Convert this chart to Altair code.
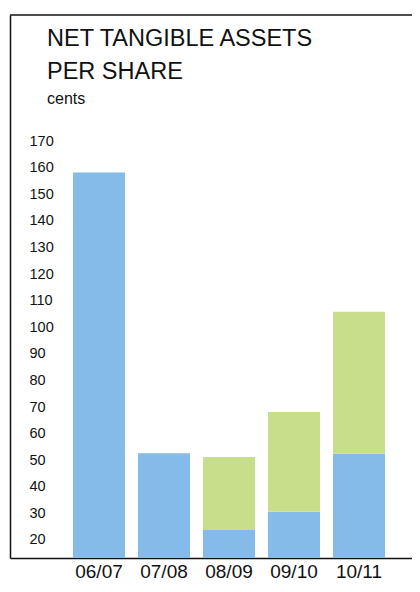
import altair as alt
import pandas as pd

categories = ["06/07", "07/08", "08/09", "09/10", "10/11"]
blue_values = [158.2, 52.6, 23.8, 30.6, 52.4]
green_values = [0.0, 0.0, 27.4, 37.5, 53.4]
y_ticks = [20, 30, 40, 50, 60, 70, 80, 90, 100, 110, 120, 130, 140, 150, 160, 170]
series_names = ["base", "extra"]
series_colors = ["#85bbe8", "#c7df8b"]

rows = []
for c, b, g in zip(categories, blue_values, green_values):
    rows.append({"period": c, "series": "base", "value": b, "ord": 0})
    rows.append({"period": c, "series": "extra", "value": g, "ord": 1})
df = pd.DataFrame(rows)

FONT = "Liberation Sans"

bars = alt.Chart(df).mark_bar(clip=True).encode(
    x=alt.X("period:N", sort=categories,
            scale=alt.Scale(paddingInner=0.2, paddingOuter=0.692, align=0.7),
            axis=alt.Axis(title=None, labelAngle=0, ticks=False, tickSize=0,
                          domain=True, domainColor="#111111", domainWidth=1.5,
                          labelFontSize=19, labelPadding=4, labelColor="#111111",
                          labelFont=FONT)),
    y=alt.Y("value:Q", stack="zero",
            scale=alt.Scale(domain=[13.23, 217.4], zero=False, nice=False),
            axis=alt.Axis(title=None, values=y_ticks, grid=False, ticks=False, tickSize=0,
                          domain=True, domainColor="#111111", domainWidth=1.5,
                          labelAlign="left", labelPadding=-19, labelFontSize=14.5,
                          labelColor="#111111", labelFont=FONT)),
    color=alt.Color("series:N", scale=alt.Scale(domain=series_names, range=series_colors),
                    legend=None),
    order=alt.Order("ord:Q"),
)

top_line = alt.Chart(alt.Data(values=[{}])).mark_rule(color="#111111", strokeWidth=1.5).encode(
    y=alt.value(0)
)

chart = alt.layer(bars, top_line).properties(
    width=402,
    height=543,
    autosize=alt.AutoSizeParams(type="none"),
    padding={"left": 2, "top": 7, "right": 0, "bottom": 24},
    title=alt.TitleParams(
        text=["NET TANGIBLE ASSETS", "PER SHARE"],
        subtitle="cents",
        anchor="start",
        frame="group",
        dx=37,
        offset=-93,
        fontSize=23.5,
        fontWeight="normal",
        lineHeight=32.6,
        subtitleFontSize=16,
        subtitlePadding=8,
        color="#111111",
        subtitleColor="#111111",
        font=FONT,
        subtitleFont=FONT,
    ),
).configure_view(stroke=None)

chart.save("out.html", embed_options={"renderer": "svg", "actions": False})
